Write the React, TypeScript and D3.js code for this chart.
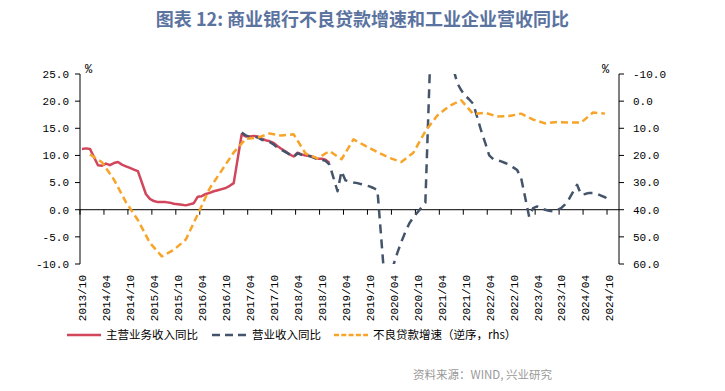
import React from "react";
import * as d3 from "d3";

// monthly categories 2013/10 .. 2024/12
const months: string[] = [];
for (let y = 2013, m = 10; y < 2025; ) {
  months.push(`${y}/${String(m).padStart(2, "0")}`);
  m++;
  if (m > 12) { m = 1; y++; }
}

const xLabels = [
  "2013/10", "2014/04", "2014/10", "2015/04", "2015/10", "2016/04", "2016/10", "2017/04",
  "2017/10", "2018/04", "2018/10", "2019/04", "2019/10", "2020/04", "2020/10", "2021/04",
  "2021/10", "2022/04", "2022/10", "2023/04", "2023/10", "2024/04", "2024/10",
];
const leftTicks = [25, 20, 15, 10, 5, 0, -5, -10];
const rightTicks = [-10, 0, 10, 20, 30, 40, 50, 60];

// 主营业务收入同比, starts 2013/10
const mainStart = "2013/10";
const mainRevenue: (number | null)[] = [
  11.2, 11.3, 11.2, null, 8.2, 8.1, 8.5, 8.2, 8.6, 8.8,
  8.3, 8.0, 7.7, 7.4, 7.1, null, 2.9, 2.0, 1.6, 1.4,
  1.4, 1.4, 1.3, 1.1, 1.0, 0.9, 0.8, null, 1.2, 2.4,
  2.5, 2.9, 3.1, 3.4, 3.6, 3.8, 4.0, 4.4, 4.9, null,
  13.9, 13.5, 13.5, 13.6, 13.5, 13.1, 12.8, 12.6, 12.3, 11.7,
  11.2, 10.7, 10.2, 9.8, 10.5, 10.2, 10.0, 9.9, 9.7, 9.4,
  9.4, 9.2, 8.6,
];

// 营业收入同比, starts 2017/02
const revStart = "2017/02";
const revenue: (number | null)[] = [
  14.2, 13.7, 13.4, 13.5, 13.3, 12.9, 12.7, 12.5, 12.0, 11.4,
  11.0, 10.6, 10.2, 9.7, 10.4, 10.1, 10.0, 9.9, 9.6, 9.3,
  9.2, 9.0, 8.3, null, 3.4, 7.1, 5.4, 5.2, 5.0, 4.9,
  4.7, 4.5, 4.3, 4.0, 3.6, null, -15.0, -14.0, -10.2, -7.9,
  -5.9, -4.1, -2.5, -1.4, -0.5, 0.4, 1.3, null, 45.0, 40.0,
  36.0, 32.0, 29.0, 26.0, 23.3, 22.0, 21.0, 20.3, 19.5, null,
  14.5, 12.3, 10.0, 9.3, 9.1, 8.9, 8.6, 8.3, 7.8, 7.3,
  5.8, null, -1.3, 0.3, 0.6, 0.2, 0.0, -0.2, -0.3, -0.1,
  0.3, 1.0, 2.0, null, 4.6, 2.8, 2.9, 3.1, 3.1, 2.9,
  2.6, 2.3, 1.9,
];

// 不良贷款增速 (quarterly, right axis reversed)
const nplDates = [
  "2013/12", "2014/03", "2014/06", "2014/09", "2014/12", "2015/03", "2015/06", "2015/09",
  "2015/12", "2016/03", "2016/06", "2016/09", "2016/12", "2017/03", "2017/06", "2017/09",
  "2017/12", "2018/03", "2018/06", "2018/09", "2018/12", "2019/03", "2019/06", "2019/09",
  "2019/12", "2020/03", "2020/06", "2020/09", "2020/12", "2021/03", "2021/06", "2021/09",
  "2021/12", "2022/03", "2022/06", "2022/09", "2022/12", "2023/03", "2023/06", "2023/09",
  "2023/12", "2024/03", "2024/06", "2024/09",
];
const nplGrowth = [
  19.6, 22.5, 28.9, 37.2, 43.8, 52.2, 57.2, 54.8,
  51.0, 41.7, 32.1, 25.5, 18.9, 13.9, 13.5, 11.9,
  12.7, 12.2, 19.3, 21.1, 18.4, 21.4, 14.1, 16.5,
  18.8, 20.9, 22.4, 19.0, 11.1, 5.3, 1.8, -0.3,
  4.8, 4.3, 5.7, 5.5, 4.6, 6.8, 8.2, 7.7,
  7.9, 7.9, 4.2, 4.6,
];

const RED = "#D2465C";
const BLUE = "#44546A";
const ORANGE = "#F7A428";
const NUM_FONT = "'Liberation Mono', 'DejaVu Sans Mono', monospace";
const CJK_FONT = "'Noto Sans CJK SC', sans-serif";

export default function App() {
  const W = 725, H = 391;
  const left = 80, right = 619, top = 74, bottom = 264;

  const x = d3.scaleBand<string>().domain(months).range([left, right]).padding(0);
  const bw = x.bandwidth();
  const cx = (m: string) => (x(m) as number) + bw / 2;
  const yL = d3.scaleLinear().domain([-10, 25]).range([bottom, top]);
  const yR = d3.scaleLinear().domain([-10, 60]).range([top, bottom]);

  const toPts = (start: string, vals: (number | null)[], y: d3.ScaleLinear<number, number>) => {
    const s = months.indexOf(start);
    const pts: [number, number][] = [];
    vals.forEach((v, i) => {
      if (v !== null) pts.push([cx(months[s + i]), y(v)]);
    });
    return pts;
  };
  const line = d3.line<[number, number]>();

  const redPath = line(toPts(mainStart, mainRevenue, yL)) || "";
  const bluePath = line(toPts(revStart, revenue, yL)) || "";
  const orangePath =
    line(nplDates.map((d, i) => [cx(d), yR(nplGrowth[i])] as [number, number])) || "";

  const zeroY = yL(0);

  return (
    <svg width={W} height={H} style={{ position: "absolute", left: 0, top: 0, background: "#fff" }}>
      <defs>
        <clipPath id="plot">
          <rect x={left} y={top} width={right - left} height={bottom - top} />
        </clipPath>
      </defs>

      <text x={W / 2} y={26} textAnchor="middle" fontFamily={CJK_FONT} fontWeight="bold"
        fontSize={18} fill="#5B739F">图表 12: 商业银行不良贷款增速和工业企业营收同比</text>

      {/* left axis */}
      <line x1={left} x2={left} y1={top} y2={bottom} stroke="#000" />
      {leftTicks.map((t) => (
        <g key={"l" + t}>
          <line x1={left - 5} x2={left} y1={yL(t)} y2={yL(t)} stroke="#000" />
          <text x={69} y={yL(t)} dy="0.35em" textAnchor="end" fontFamily={NUM_FONT}
            fontSize={11} fill="#000">{t.toFixed(1)}</text>
        </g>
      ))}
      <text x={85} y={73} fontFamily={NUM_FONT} fontSize={12}>%</text>

      {/* right axis */}
      <line x1={right} x2={right} y1={top} y2={bottom} stroke="#000" />
      {rightTicks.map((t) => (
        <g key={"r" + t}>
          <line x1={right} x2={right + 5} y1={yR(t)} y2={yR(t)} stroke="#000" />
          <text x={633} y={yR(t)} dy="0.35em" textAnchor="start" fontFamily={NUM_FONT}
            fontSize={11} fill="#000">{t.toFixed(1)}</text>
        </g>
      ))}
      <text x={602} y={73} fontFamily={NUM_FONT} fontSize={12}>%</text>

      {/* x axis at zero */}
      <line x1={left} x2={right} y1={zeroY} y2={zeroY} stroke="#000" />
      {xLabels.map((m) => (
        <g key={m}>
          <line x1={x(m) as number} x2={x(m) as number} y1={zeroY} y2={zeroY + 5} stroke="#000" />
          <text transform={`translate(${cx(m) + 0.5},${275}) rotate(-90)`} textAnchor="end"
            dy="0.35em" fontFamily={NUM_FONT} fontSize={11} fill="#000">{m}</text>
        </g>
      ))}

      <g clipPath="url(#plot)" fill="none" strokeLinejoin="round">
        <path d={redPath} stroke={RED} strokeWidth={2.5} />
        <path d={bluePath} stroke={BLUE} strokeWidth={2.5} strokeDasharray="9,6" />
        <path d={orangePath} stroke={ORANGE} strokeWidth={2.5} strokeDasharray="7,4" />
      </g>

      {/* legend */}
      <g fontFamily={CJK_FONT} fontSize={11.5} fill="#000">
        <line x1={67} x2={101} y1={335} y2={335} stroke={RED} strokeWidth={2.5} />
        <text x={106} y={339}>主营业务收入同比</text>
        <line x1={212} x2={247} y1={335} y2={335} stroke={BLUE} strokeWidth={2.5} strokeDasharray="8,5" />
        <text x={252} y={339}>营业收入同比</text>
        <line x1={334} x2={368} y1={335} y2={335} stroke={ORANGE} strokeWidth={2.5} strokeDasharray="5,2.3" />
        <text x={373} y={339}>不良贷款增速（逆序，rhs）</text>
      </g>

      <text x={552} y={379} textAnchor="end" fontFamily={CJK_FONT} fontSize={11.5}
        fill="#999">资料来源：WIND, 兴业研究</text>
    </svg>
  );
}
